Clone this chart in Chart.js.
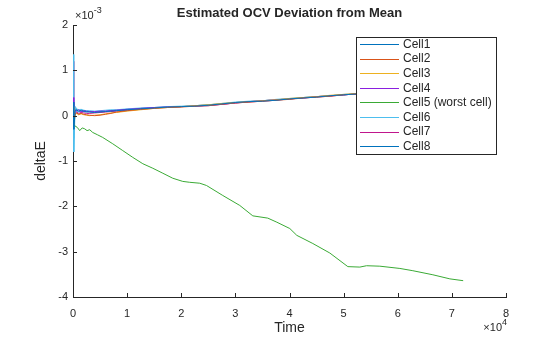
<!DOCTYPE html>
<html lang="en">
<head>
  <meta charset="UTF-8" />
  <title>Estimated OCV Deviation from Mean</title>
  <script src="https://cdn.jsdelivr.net/npm/chart.js"></script>
  <style>
    html, body { margin: 0; padding: 0; background: #fff; }
    #wrap { width: 560px; height: 337px; }
  </style>
</head>
<body>
  <div id="wrap"><canvas id="ocvChart" width="560" height="337"></canvas></div>

  <script>
    // deltaE values are in units of 1e-3, time in seconds
    const timeCluster = [0, 150, 400, 700, 1000, 1500, 2000, 2500, 3000, 4000, 5000, 6000, 7000, 8000, 10000, 12500, 15000, 17500, 20000, 22500, 25000, 27500, 30000, 32500, 35000, 37500, 40000, 42500, 45000, 47500, 50000, 52500, 55000, 60000, 66000, 72000];
    const cell1 = [0.30, -0.30, 0.10, 0.14, 0.08, 0.12, 0.10, 0.09, 0.08, 0.07, 0.08, 0.09, 0.10, 0.11, 0.13, 0.15, 0.17, 0.19, 0.20, 0.21, 0.23, 0.26, 0.29, 0.31, 0.32, 0.34, 0.37, 0.39, 0.41, 0.44, 0.46, 0.48, 0.50, 0.54, 0.58, 0.62];
    const cell2 = [0.10, -0.10, 0.04, 0.06, 0.03, 0.05, 0.03, 0.02, 0.01, 0.00, 0.01, 0.03, 0.05, 0.08, 0.11, 0.14, 0.16, 0.18, 0.19, 0.21, 0.22, 0.25, 0.28, 0.30, 0.32, 0.34, 0.36, 0.39, 0.41, 0.43, 0.46, 0.48, 0.50, 0.54, 0.58, 0.61];
    const cell3 = [0.20, -0.20, 0.02, 0.05, 0.02, 0.04, 0.02, 0.01, 0.00, 0.01, 0.02, 0.04, 0.06, 0.07, 0.10, 0.13, 0.16, 0.18, 0.20, 0.22, 0.24, 0.27, 0.29, 0.31, 0.33, 0.35, 0.38, 0.40, 0.42, 0.45, 0.47, 0.49, 0.51, 0.55, 0.59, 0.63];
    const cell4 = [0.40, -0.15, 0.12, 0.10, 0.13, 0.09, 0.11, 0.10, 0.09, 0.09, 0.10, 0.10, 0.11, 0.12, 0.14, 0.16, 0.18, 0.19, 0.20, 0.21, 0.22, 0.25, 0.28, 0.31, 0.33, 0.35, 0.37, 0.39, 0.42, 0.44, 0.46, 0.48, 0.51, 0.55, 0.58, 0.62];
    const cell6 = [1.35, -0.80, 0.20, 0.15, 0.13, 0.14, 0.12, 0.11, 0.11, 0.10, 0.11, 0.12, 0.13, 0.13, 0.15, 0.17, 0.18, 0.20, 0.21, 0.22, 0.24, 0.27, 0.30, 0.32, 0.33, 0.36, 0.38, 0.40, 0.42, 0.44, 0.47, 0.49, 0.51, 0.55, 0.59, 0.63];
    const cell7 = [1.20, -0.10, 0.05, 0.08, 0.05, 0.07, 0.06, 0.05, 0.05, 0.06, 0.07, 0.08, 0.09, 0.10, 0.12, 0.14, 0.17, 0.19, 0.20, 0.21, 0.23, 0.25, 0.28, 0.30, 0.32, 0.34, 0.37, 0.39, 0.41, 0.43, 0.46, 0.48, 0.50, 0.54, 0.57, 0.61];
    const cell8 = [-0.50, 0.30, 0.15, 0.10, 0.12, 0.10, 0.09, 0.08, 0.09, 0.08, 0.09, 0.10, 0.11, 0.12, 0.14, 0.16, 0.18, 0.19, 0.20, 0.22, 0.24, 0.26, 0.29, 0.31, 0.33, 0.35, 0.37, 0.40, 0.42, 0.44, 0.46, 0.48, 0.51, 0.55, 0.58, 0.62];

    const timeWorst = [0, 300, 800, 1240, 1700, 2160, 2600, 3090, 3640, 4500, 5490, 7340, 9190, 11040, 12900, 14750, 16600, 18430, 20280, 21570, 23420, 24660, 27670, 30810, 33220, 35990, 37660, 40060, 41350, 44310, 47450, 50780, 53000, 54230, 56690, 60390, 62790, 66490, 69630, 72090];
    const cell5 = [-0.15, -0.22, -0.26, -0.33, -0.27, -0.29, -0.33, -0.31, -0.37, -0.42, -0.48, -0.62, -0.77, -0.92, -1.06, -1.16, -1.27, -1.38, -1.45, -1.47, -1.49, -1.54, -1.76, -1.98, -2.21, -2.26, -2.35, -2.49, -2.64, -2.82, -3.03, -3.33, -3.34, -3.31, -3.32, -3.37, -3.42, -3.51, -3.60, -3.64];

    const seriesNames = ['Cell1', 'Cell2', 'Cell3', 'Cell4', 'Cell5 (worst cell)', 'Cell6', 'Cell7', 'Cell8'];
    const seriesColors = ['#0072BD', '#D95319', '#EDB120', '#8A1FDF', '#3AAA35', '#4DBEEE', '#C0168C', '#0072BD'];
    const xTicks = [0, 10000, 20000, 30000, 40000, 50000, 60000, 70000, 80000];
    const yTicks = [-4, -3, -2, -1, 0, 1, 2];

    const ink = '#262626';
    const fontFam = 'Arial, "Liberation Sans", Helvetica, sans-serif';

    function pts(xs, ys) {
      return xs.map((x, i) => ({ x: x, y: ys[i] }));
    }

    const seriesData = [
      pts(timeCluster, cell1), pts(timeCluster, cell2), pts(timeCluster, cell3), pts(timeCluster, cell4),
      pts(timeWorst, cell5),
      pts(timeCluster, cell6), pts(timeCluster, cell7), pts(timeCluster, cell8)
    ];

    const datasets = seriesNames.map((name, i) => ({
      label: name,
      data: seriesData[i],
      borderColor: seriesColors[i],
      borderWidth: 1,
      pointRadius: 0,
      tension: 0,
      fill: false
    }));

    // exponent label like "×10^-3"
    function expLabel(ctx, base, exp, x, y, alignRight) {
      ctx.font = '11px ' + fontFam;
      const wb = ctx.measureText(base).width;
      ctx.font = '9px ' + fontFam;
      const we = ctx.measureText(exp).width;
      const x0 = alignRight ? x - wb - we : x;
      ctx.font = '11px ' + fontFam;
      ctx.fillText(base, x0, y);
      ctx.font = '9px ' + fontFam;
      ctx.fillText(exp, x0 + wb, y - 5);
    }

    // MATLAB-like decorations: inward ticks, title, axis labels, exponents, legend box
    const matlabLook = {
      id: 'matlabLook',
      afterDraw(chart) {
        const ctx = chart.ctx;
        const a = chart.chartArea;
        const xs = chart.scales.x, ys = chart.scales.y;
        ctx.save();
        ctx.strokeStyle = ink;
        ctx.lineWidth = 1;
        ctx.beginPath();
        xTicks.forEach(v => {
          const px = Math.round(xs.getPixelForValue(v)) + 0.5;
          ctx.moveTo(px, a.bottom);
          ctx.lineTo(px, a.bottom - 4);
        });
        yTicks.forEach(v => {
          const py = Math.round(ys.getPixelForValue(v)) + 0.5;
          ctx.moveTo(a.left, py);
          ctx.lineTo(a.left + 4, py);
        });
        ctx.stroke();

        ctx.fillStyle = ink;
        ctx.font = 'bold 13px ' + fontFam;
        ctx.textAlign = 'center';
        ctx.textBaseline = 'middle';
        ctx.fillText('Estimated OCV Deviation from Mean', (a.left + a.right) / 2, 13);

        ctx.font = '14px ' + fontFam;
        ctx.fillText('Time', (a.left + a.right) / 2, 328);
        ctx.save();
        ctx.translate(41, (a.top + a.bottom) / 2);
        ctx.rotate(-Math.PI / 2);
        ctx.fillText('deltaE', 0, 0);
        ctx.restore();

        ctx.textAlign = 'left';
        expLabel(ctx, '\u00d710', '-3', a.left + 2, 16, false);
        expLabel(ctx, '\u00d710', '4', a.right + 1, 328, true);

        // legend
        const lx = 356, ly = 37, lw = 140, lh = 117;
        ctx.fillStyle = '#fff';
        ctx.fillRect(lx, ly, lw, lh);
        ctx.strokeStyle = ink;
        ctx.strokeRect(lx + 0.5, ly + 0.5, lw, lh);
        ctx.font = '12px ' + fontFam;
        ctx.textBaseline = 'middle';
        chart.data.datasets.forEach((ds, i) => {
          const y = 44 + i * 14.6;
          ctx.strokeStyle = ds.borderColor;
          ctx.lineWidth = 1;
          ctx.beginPath();
          ctx.moveTo(360, Math.round(y) + 0.5);
          ctx.lineTo(399, Math.round(y) + 0.5);
          ctx.stroke();
          ctx.fillStyle = ink;
          ctx.fillText(ds.label, 403, y + 0.5);
        });
        ctx.restore();
      }
    };

    const ctx = document.getElementById('ocvChart').getContext('2d');
    new Chart(ctx, {
      type: 'line',
      data: { datasets },
      options: {
        responsive: false,
        animation: false,
        layout: { padding: { top: 25, right: 54, left: 0, bottom: 0 } },
        plugins: {
          legend: { display: false },
          tooltip: { enabled: false },
          title: { display: false }
        },
        scales: {
          x: {
            type: 'linear',
            min: 0,
            max: 80000,
            afterBuildTicks: s => { s.ticks = xTicks.map(v => ({ value: v })); },
            afterFit: s => { s.height = 40; },
            grid: { display: false, drawTicks: false },
            border: { display: true, color: ink, width: 1 },
            ticks: {
              color: ink,
              font: { size: 11, family: fontFam },
              padding: 10,
              maxRotation: 0,
              callback: v => String(v / 10000)
            }
          },
          y: {
            type: 'linear',
            min: -4,
            max: 2,
            afterBuildTicks: s => { s.ticks = yTicks.map(v => ({ value: v })); },
            afterFit: s => { s.width = 73; },
            grid: { display: false, drawTicks: false },
            border: { display: true, color: ink, width: 1 },
            ticks: {
              color: ink,
              font: { size: 11, family: fontFam },
              padding: 5,
              callback: v => String(v)
            }
          }
        }
      },
      plugins: [matlabLook]
    });
  </script>
</body>
</html>
